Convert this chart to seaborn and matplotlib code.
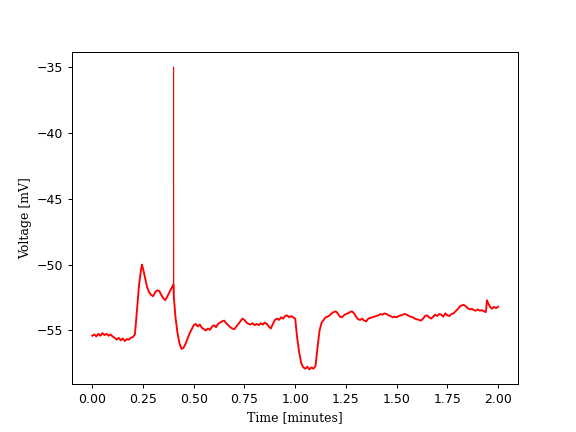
"""Membrane voltage trace over two minutes."""

import matplotlib
matplotlib.use("Agg")
import matplotlib.pyplot as plt
import seaborn as sns

# time in minutes, voltage in mV
time_min = [
    0.00, 0.01, 0.02, 0.03, 0.04, 0.05, 0.06, 0.07, 0.08, 0.09,
    0.10, 0.11, 0.12, 0.13, 0.14, 0.15, 0.16, 0.17, 0.18, 0.19,
    0.20, 0.21, 0.22, 0.23, 0.24, 0.245, 0.25, 0.26, 0.27, 0.28, 0.29,
    0.30, 0.31, 0.32, 0.33, 0.34, 0.35, 0.36, 0.37, 0.38, 0.39,
    0.40, 0.402, 0.41, 0.42, 0.43, 0.44, 0.45, 0.46, 0.47, 0.48, 0.49,
    0.50, 0.51, 0.52, 0.53, 0.54, 0.55, 0.56, 0.57, 0.58, 0.59,
    0.60, 0.61, 0.62, 0.63, 0.64, 0.65, 0.66, 0.67, 0.68, 0.69,
    0.70, 0.71, 0.72, 0.73, 0.74, 0.75, 0.76, 0.77, 0.78, 0.79,
    0.80, 0.81, 0.82, 0.83, 0.84, 0.85, 0.86, 0.87, 0.88, 0.89,
    0.90, 0.91, 0.92, 0.93, 0.94, 0.95, 0.96, 0.97, 0.98, 0.99,
    1.00, 1.01, 1.02, 1.03, 1.04, 1.05, 1.06, 1.07, 1.08, 1.09,
    1.10, 1.11, 1.12, 1.13, 1.14, 1.15, 1.16, 1.17, 1.18, 1.19,
    1.20, 1.21, 1.22, 1.23, 1.24, 1.25, 1.26, 1.27, 1.28, 1.29,
    1.30, 1.31, 1.32, 1.33, 1.34, 1.35, 1.36, 1.37, 1.38, 1.39,
    1.40, 1.41, 1.42, 1.43, 1.44, 1.45, 1.46, 1.47, 1.48, 1.49,
    1.50, 1.51, 1.52, 1.53, 1.54, 1.55, 1.56, 1.57, 1.58, 1.59,
    1.60, 1.61, 1.62, 1.63, 1.64, 1.65, 1.66, 1.67, 1.68, 1.69,
    1.70, 1.71, 1.72, 1.73, 1.74, 1.75, 1.76, 1.77, 1.78, 1.79,
    1.80, 1.81, 1.82, 1.83, 1.84, 1.85, 1.86, 1.87, 1.88, 1.89,
    1.90, 1.91, 1.92, 1.93, 1.94, 1.945, 1.95, 1.96, 1.97, 1.98, 1.99,
    2.00,
]
voltage_mv = [
    -55.40, -55.30, -55.45, -55.25, -55.40, -55.20, -55.35, -55.25, -55.40, -55.30,
    -55.45, -55.55, -55.70, -55.55, -55.75, -55.60, -55.80, -55.65, -55.70, -55.55,
    -55.50, -55.30, -53.50, -51.60, -50.40, -50.00, -50.30, -51.00, -51.70, -52.10, -52.30,
    -52.40, -52.10, -51.95, -52.00, -52.30, -52.55, -52.70, -52.40, -52.10, -51.80,
    -51.50, -52.50, -54.00, -55.20, -56.00, -56.40, -56.30, -56.00, -55.60, -55.20, -54.90,
    -54.60, -54.50, -54.70, -54.55, -54.80, -54.90, -55.00, -54.85, -54.95, -54.70,
    -54.60, -54.75, -54.50, -54.40, -54.30, -54.25, -54.45, -54.60, -54.75, -54.85,
    -54.90, -54.70, -54.50, -54.30, -54.10, -54.20, -54.40, -54.50, -54.55, -54.45,
    -54.60, -54.50, -54.60, -54.45, -54.55, -54.40, -54.50, -54.70, -54.85, -54.50,
    -54.20, -54.10, -54.20, -54.00, -54.10, -53.90, -53.85, -54.00, -53.90, -54.00,
    -54.10, -55.60, -56.70, -57.50, -57.80, -57.90, -57.75, -57.95, -57.80, -57.90,
    -57.70, -56.30, -55.00, -54.40, -54.20, -54.00, -53.95, -53.85, -53.70, -53.60,
    -53.55, -53.70, -53.95, -54.00, -53.85, -53.75, -53.70, -53.60, -53.55, -53.70,
    -53.95, -54.15, -54.20, -54.10, -54.25, -54.30, -54.10, -54.05, -54.00, -53.95,
    -53.90, -53.85, -53.75, -53.80, -53.70, -53.75, -53.85, -53.90, -54.00, -53.95,
    -54.00, -53.90, -53.85, -53.80, -53.75, -53.80, -53.90, -53.95, -54.00, -54.10,
    -54.15, -54.20, -54.25, -54.10, -53.90, -53.85, -54.00, -54.10, -53.95, -53.80,
    -53.90, -53.75, -53.80, -53.95, -53.70, -53.85, -53.90, -53.75, -53.70, -53.55,
    -53.40, -53.20, -53.10, -53.05, -53.15, -53.30, -53.40, -53.35, -53.45, -53.50,
    -53.40, -53.50, -53.45, -53.55, -53.60, -52.70, -52.90, -53.20, -53.35, -53.20, -53.30,
    -53.20,
]

# the single action-potential spike, a one-sample excursion
spike_time = [0.400, 0.401, 0.402]
spike_mv = [-51.50, -35.00, -52.50]

fig, ax = plt.subplots(figsize=(6.4, 4.8), dpi=90)
ax.plot(spike_time, spike_mv, color="#ff0000", linewidth=0.7)
sns.lineplot(x=time_min, y=voltage_mv, color="#ff0000", linewidth=1.5,
             estimator=None, sort=False, ax=ax)
ax.set_xlabel("Time [minutes]", family="DejaVu Serif")
ax.set_ylabel("Voltage [mV]", family="DejaVu Serif")

plt.savefig("out.png", dpi=90)
plt.close()
